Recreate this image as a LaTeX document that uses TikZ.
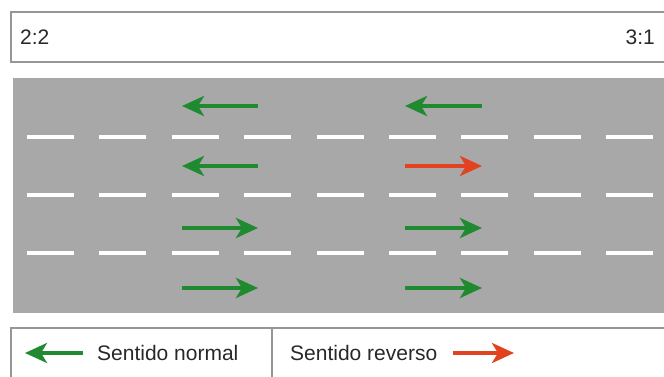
\documentclass[tikz,border=0pt]{standalone}
\usepackage{fontspec}
\setmainfont{Liberation Sans}
\usetikzlibrary{arrows.meta}
\definecolor{roadgray}{RGB}{168,168,168}
\definecolor{lanegreen}{RGB}{32,138,48}
\definecolor{lanered}{RGB}{226,66,32}
\definecolor{boxgray}{RGB}{150,150,150}
\definecolor{txtgray}{RGB}{40,40,40}

\tikzset{
  flow/.style={line width=3.8pt, -{Stealth[length=22pt,width=20pt,inset=6pt]}},
  normalflow/.style={flow, lanegreen},
  reverseflow/.style={flow, lanered},
  lbl/.style={font=\fontsize{21}{24}\selectfont, text=txtgray, inner sep=0pt},
  frame/.style={draw=boxgray, line width=1.3pt}
}

\begin{document}
\begin{tikzpicture}[x=1pt, y=-1pt]
        \useasboundingbox (0,0) rectangle (664,377);
        \clip (0,0) rectangle (664,377);
        % Ratio bar
        \draw[frame] (11,12) rectangle (690,62);
        \node[lbl, anchor=west] (ratioL) at (20,37) {2:2};
        \node[lbl, anchor=east] (ratioR) at (655,37) {3:1};
        % Road
        \fill[roadgray] (13,78) rectangle (690,313);
        \foreach \y in {137,195,253}
          \foreach \i in {0,...,8}
            \draw[white, line width=4pt] (27+72.4*\i,\y) -- ++(47,0);
        % Lanes, left half (2:2)
        \draw[normalflow] (258,106) -- (182,106);
        \draw[normalflow] (258,166) -- (182,166);
        \draw[normalflow] (182,228) -- (258,228);
        \draw[normalflow] (182,288) -- (258,288);
        % Lanes, right half (3:1)
        \draw[normalflow] (482,106) -- (405,106);
        \draw[reverseflow] (405,166) -- (482,166);
        \draw[normalflow] (405,228) -- (482,228);
        \draw[normalflow] (405,288) -- (482,288);
        % Legend
        \draw[frame] (11,395) |- (690,328);
        \draw[frame] (272,328) -- (272,395);
        \node[lbl, anchor=west] (normal) at (97,353) {Sentido normal};
        \node[lbl, anchor=west] (reverse) at (290,353) {Sentido reverso};
        \coordinate (normaltip) at (25,353);
        \coordinate (reversetip) at (514,353);
        \draw[normalflow] ([xshift=-14pt]normal.west) -- (normaltip);
        \draw[reverseflow] ([xshift=16pt]reverse.east) -- (reversetip);
    \end{tikzpicture}
\end{document}
